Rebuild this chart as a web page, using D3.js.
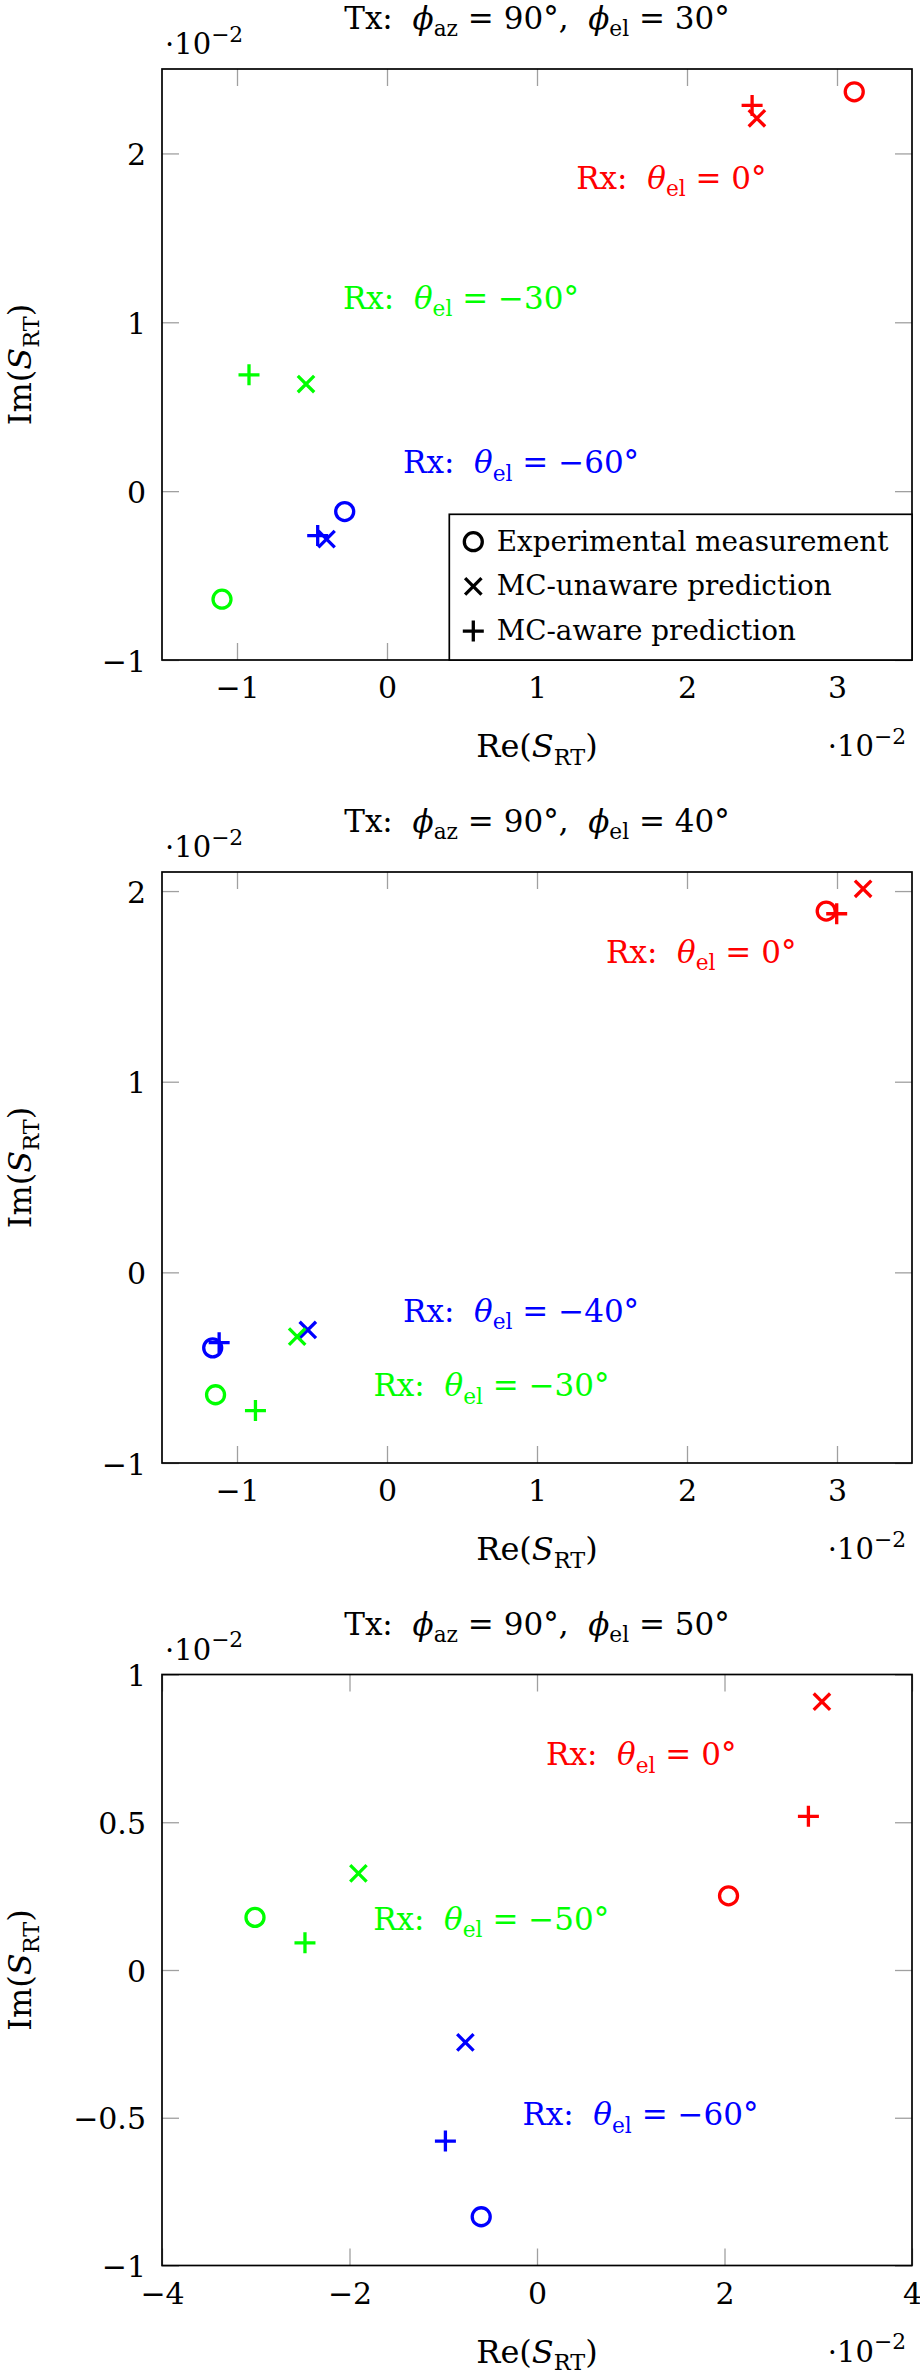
<!DOCTYPE html>
<html>
<head>
<meta charset="utf-8">
<script src="https://cdn.jsdelivr.net/npm/d3@7"></script>
<style>
  html, body { margin: 0; padding: 0; background: #fff; }
  svg { display: block; }
  text { white-space: pre; }
</style>
</head>
<body>
<script>
// ---------------- DATA (values in units of 1e-2) ----------------
const txElevation = ["30°", "40°", "50°"];
const seriesNames = ["Experimental measurement", "MC-unaware prediction", "MC-aware prediction"];

const xDomains = [[-1.5, 3.5], [-1.5, 3.5], [-4, 4]];
const yDomains = [[-1, 2.5], [-1, 2.1], [-1, 1]];
const xTicks = [[-1, 0, 1, 2, 3], [-1, 0, 1, 2, 3], [-4, -2, 0, 2, 4]];
const yTicks = [[-1, 0, 1, 2], [-1, 0, 1, 2], [-1, -0.5, 0, 0.5, 1]];

// Rx elevation groups per panel
const rxElevation = [["0°", "−30°", "−60°"], ["0°", "−40°", "−30°"], ["0°", "−50°", "−60°"]];

// Experimental measurement
const measRe = [[3.115, -1.100, -0.282], [2.928, -1.162, -1.143], [2.043, -3.008, -0.595]];
const measIm = [[2.365, -0.640, -0.121], [1.895, -0.396, -0.642], [0.251, 0.178, -0.835]];
// MC-unaware prediction
const unawareRe = [[2.466, -0.540, -0.403], [3.174, -0.528, -0.599], [3.039, -1.905, -0.764]];
const unawareIm = [[2.208, 0.634, -0.284], [2.012, -0.302, -0.337], [0.908, 0.327, -0.245]];
// MC-aware prediction
const awareRe = [[2.434, -0.920, -0.462], [2.998, -1.119, -0.877], [2.895, -2.475, -0.977]];
const awareIm = [[2.284, 0.689, -0.263], [1.881, -0.369, -0.725], [0.520, 0.092, -0.579]];

// Annotation anchors (data coordinates)
const labelRe = [[1.896, 0.493, 0.894], [2.095, 0.894, 0.697], [1.112, -0.489, 1.103]];
const labelIm = [[1.79, 1.08, 0.106], [1.624, -0.26, -0.65], [0.693, 0.137, -0.526]];

// ---------------- STYLE / LAYOUT ----------------
const groupColors = [["#ff0000", "#00ff00", "#0000ff"], ["#ff0000", "#0000ff", "#00ff00"], ["#ff0000", "#00ff00", "#0000ff"]];
const markerShapes = ["circle", "cross", "plus"];
const FONT = "'DejaVu Serif', serif";
const FS = 31;          // titles, annotations
const FS_TICK = 30;     // tick labels
const FS_AX = 32;       // axis labels
const FS_LEG = 27.8;    // legend
const FS_SCALE = 29;    // ·10^-2
const FL = 162, FW = 750, FH = 591;
const panelTops = [69, 872, 1674.5];
const TL = 17;

const svg = d3.select("body").append("svg").attr("width", 920).attr("height", 2376);
svg.append("rect").attr("width", 920).attr("height", 2376).attr("fill", "#fff");

function rich(textSel, segs, fs, supRatio) {
  let shift = 0;
  segs.forEach(s => {
    const target = s.sub ? fs * 0.24 : s.sup ? -fs * 0.42 : 0;
    const ts = textSel.append("tspan").attr("dy", target - shift).text(s.t)
      .attr("font-size", s.sub ? fs * 0.7 : s.sup ? fs * (supRatio || 0.7) : fs);
    if (s.it) ts.attr("font-style", "italic");
    shift = target;
  });
  return textSel;
}

function drawMarker(g, shape, cx, cy, color) {
  if (shape === "circle") {
    g.append("circle").attr("cx", cx).attr("cy", cy).attr("r", 9)
      .attr("fill", "none").attr("stroke", color).attr("stroke-width", 3.3);
  } else if (shape === "cross") {
    const a = 8.2;
    g.append("path").attr("d", `M${cx - a},${cy - a}L${cx + a},${cy + a}M${cx - a},${cy + a}L${cx + a},${cy - a}`)
      .attr("fill", "none").attr("stroke", color).attr("stroke-width", 3.3);
  } else {
    const a = 10.5;
    g.append("path").attr("d", `M${cx - a},${cy}L${cx + a},${cy}M${cx},${cy - a}L${cx},${cy + a}`)
      .attr("fill", "none").attr("stroke", color).attr("stroke-width", 3.3);
  }
}

const fmt = d => d < 0 ? "\u2212" + Math.abs(d) : String(d);

function styleAxis(ax) {
  ax.select(".domain").remove();
  ax.selectAll(".tick line").attr("stroke", "#a0a0a0").attr("stroke-width", 1.3);
  ax.selectAll(".tick text").attr("fill", "#000").attr("font-family", FONT).attr("font-size", FS_TICK);
}

txElevation.forEach((tx, i) => {
  const g = svg.append("g").attr("transform", `translate(${FL},${panelTops[i]})`);
  const x = d3.scaleLinear().domain(xDomains[i]).range([0, FW]);
  const y = d3.scaleLinear().domain(yDomains[i]).range([FH, 0]);

  // axes
  const axB = g.append("g").attr("transform", `translate(0,${FH})`)
    .call(d3.axisBottom(x).tickValues(xTicks[i]).tickSize(-TL).tickFormat(fmt));
  styleAxis(axB);
  axB.selectAll(".tick text").attr("dy", null).attr("y", 38);
  const axT = g.append("g").call(d3.axisTop(x).tickValues(xTicks[i]).tickSize(-TL).tickFormat(""));
  styleAxis(axT);
  const axL = g.append("g").call(d3.axisLeft(y).tickValues(yTicks[i]).tickSize(-TL).tickFormat(fmt));
  styleAxis(axL);
  axL.selectAll(".tick text").attr("dy", null).attr("x", -16).attr("y", 11);
  const axR = g.append("g").attr("transform", `translate(${FW},0)`)
    .call(d3.axisRight(y).tickValues(yTicks[i]).tickSize(-TL).tickFormat(""));
  styleAxis(axR);

  // frame
  g.append("rect").attr("width", FW).attr("height", FH).attr("fill", "none")
    .attr("stroke", "#000").attr("stroke-width", 1.7);

  // marks
  const reArr = [measRe[i], unawareRe[i], awareRe[i]];
  const imArr = [measIm[i], unawareIm[i], awareIm[i]];
  const mg = g.append("g");
  reArr.forEach((res, s) => {
    res.forEach((re, j) => {
      drawMarker(mg, markerShapes[s], x(re), y(imArr[s][j]), groupColors[i][j]);
    });
  });

  // annotations
  rxElevation[i].forEach((el, j) => {
    const t = g.append("text").attr("x", x(labelRe[i][j])).attr("y", y(labelIm[i][j]))
      .attr("text-anchor", "middle").attr("fill", groupColors[i][j])
      .attr("font-family", FONT).attr("font-size", FS);
    rich(t, [{ t: "Rx:  " }, { t: "θ", it: true }, { t: "el", sub: true }, { t: " = " + el }], FS);
  });

  // title
  const tt = g.append("text").attr("x", FW / 2).attr("y", -40).attr("text-anchor", "middle")
    .attr("font-family", FONT).attr("font-size", FS).attr("fill", "#000");
  rich(tt, [{ t: "Tx:  " }, { t: "ϕ", it: true }, { t: "az", sub: true }, { t: " = 90°,  " },
            { t: "ϕ", it: true }, { t: "el", sub: true }, { t: " = " + tx }], FS);

  // scale labels
  const sl = g.append("text").attr("x", 3).attr("y", -15).attr("text-anchor", "start")
    .attr("font-family", FONT).attr("font-size", FS_SCALE).attr("fill", "#000");
  rich(sl, [{ t: "·10" }, { t: "\u22122", sup: true }], FS_SCALE, 0.75);
  const sr = g.append("text").attr("x", FW - 6).attr("y", FH + 96).attr("text-anchor", "end")
    .attr("font-family", FONT).attr("font-size", FS_SCALE).attr("fill", "#000");
  rich(sr, [{ t: "·10" }, { t: "\u22122", sup: true }], FS_SCALE, 0.75);

  // axis labels
  const xl = g.append("text").attr("x", FW / 2).attr("y", FH + 97).attr("text-anchor", "middle")
    .attr("font-family", FONT).attr("font-size", FS_AX).attr("fill", "#000");
  rich(xl, [{ t: "Re(" }, { t: "S", it: true }, { t: "RT", sub: true }, { t: ")" }], FS_AX);
  const yl = g.append("text").attr("transform", `translate(${31 - FL},${FH / 2}) rotate(-90)`)
    .attr("text-anchor", "middle").attr("font-family", FONT).attr("font-size", FS_AX).attr("fill", "#000");
  rich(yl, [{ t: "Im(" }, { t: "S", it: true }, { t: "RT", sub: true }, { t: ")" }], FS_AX);

  // legend (first panel only)
  if (i === 0) {
    const lg = g.append("g").attr("transform", `translate(287.3,445.3)`);
    lg.append("rect").attr("width", FW - 287.3).attr("height", FH - 445.3)
      .attr("fill", "#fff").attr("stroke", "#000").attr("stroke-width", 1.7);
    seriesNames.forEach((name, s) => {
      const by = 36.4 + s * 44.7;
      drawMarker(lg, markerShapes[s], 24, by - 9, "#000");
      lg.append("text").attr("x", 47.4).attr("y", by).attr("font-family", FONT)
        .attr("font-size", FS_LEG).attr("fill", "#000").text(name);
    });
  }
});
</script>
</body>
</html>
